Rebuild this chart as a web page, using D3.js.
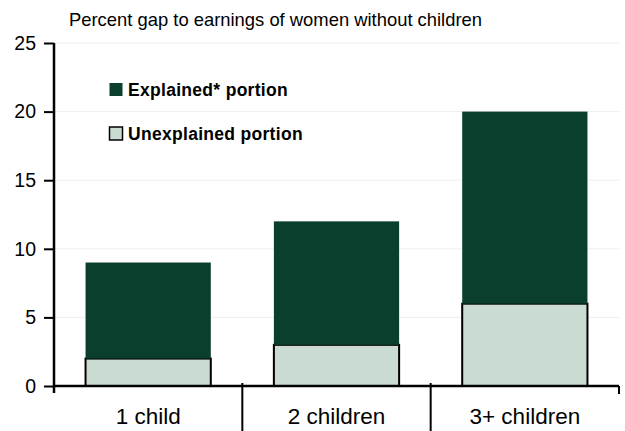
<!DOCTYPE html>
<html>
<head>
<meta charset="utf-8">
<script src="https://cdnjs.cloudflare.com/ajax/libs/d3/7.8.5/d3.min.js"></script>
<style>
  body { margin: 0; background: #fff; }
  svg text { font-family: "Liberation Sans", Arial, sans-serif; }
</style>
</head>
<body>
<svg id="chart"></svg>
<script>
// data
var categories = ["1 child", "2 children", "3+ children"];
var unexplained = [2, 3, 6];
var explained = [7, 9, 14];
var yTicks = [0, 5, 10, 15, 20, 25];
var seriesNames = ["Explained* portion", "Unexplained portion"];

var width = 625, height = 431;
var margin = {top: 43, right: 6, bottom: 45, left: 54};

var svg = d3.select("#chart").attr("width", width).attr("height", height);

var x = d3.scaleBand()
    .domain(categories)
    .range([margin.left, width - margin.right])
    .paddingInner(0.335)
    .paddingOuter(0.1675);

var y = d3.scaleLinear()
    .domain([0, 25])
    .range([height - margin.bottom, margin.top]);

// light gridlines
svg.append("g")
    .selectAll("line")
    .data(yTicks.slice(1))
    .enter()
    .append("line")
    .attr("x1", margin.left)
    .attr("x2", width - margin.right)
    .attr("y1", d => y(d))
    .attr("y2", d => y(d))
    .attr("stroke", "#eeeeee")
    .attr("stroke-width", 1);

// stacked bars
var stackData = categories.map((c, i) => ({cat: c, unexplained: unexplained[i], explained: explained[i]}));
var series = d3.stack().keys(["unexplained", "explained"])(stackData);
var fills = {unexplained: "#cadcd2", explained: "#0a3f2d"};

series.forEach(function (s) {
    svg.append("g")
        .selectAll("rect")
        .data(s)
        .enter()
        .append("rect")
        .attr("x", d => x(d.data.cat))
        .attr("width", x.bandwidth())
        .attr("y", d => y(d[1]))
        .attr("height", d => y(d[0]) - y(d[1]))
        .attr("fill", fills[s.key])
        .attr("stroke", s.key == "unexplained" ? "#000" : "none")
        .attr("stroke-width", 2);
});

// y axis
var yAxis = svg.append("g")
    .attr("transform", "translate(" + margin.left + ",0)")
    .call(d3.axisLeft(y).tickValues(yTicks).tickSize(10).tickPadding(8));
yAxis.select(".domain").attr("stroke", "#000").attr("stroke-width", 2.5)
    .attr("d", "M0," + (y(0) + 7) + "V" + y(25));
yAxis.selectAll(".tick line").attr("stroke", "#000").attr("stroke-width", 2);
yAxis.selectAll(".tick text")
    .attr("font-size", 19.5)
    .attr("fill", "#000")
    .style("font-family", "'Liberation Sans', Arial, sans-serif");

// x axis line and category dividers
var x0 = margin.left, x1 = width - margin.right, yb = y(0);
svg.append("line")
    .attr("x1", x0).attr("x2", x1)
    .attr("y1", yb).attr("y2", yb)
    .attr("stroke", "#000").attr("stroke-width", 2.5);

var step = x.step();
var dividers = categories.slice(1).map(c => x(c) - (step - x.bandwidth()) / 2);
svg.append("g")
    .selectAll("line")
    .data(dividers)
    .enter()
    .append("line")
    .attr("x1", d => d).attr("x2", d => d)
    .attr("y1", yb - 3).attr("y2", height)
    .attr("stroke", "#000").attr("stroke-width", 2);

svg.append("line")
    .attr("x1", x1).attr("x2", x1)
    .attr("y1", yb).attr("y2", yb + 8)
    .attr("stroke", "#000").attr("stroke-width", 2);

svg.append("g")
    .selectAll("text")
    .data(categories)
    .enter()
    .append("text")
    .attr("x", d => x(d) + x.bandwidth() / 2)
    .attr("y", 424)
    .attr("text-anchor", "middle")
    .attr("font-size", 22.5)
    .attr("fill", "#000")
    .text(d => d);

// title
svg.append("text")
    .attr("x", 69)
    .attr("y", 25.5)
    .attr("font-size", 18.4)
    .attr("fill", "#000")
    .text("Percent gap to earnings of women without children");

// legend
var legend = svg.append("g")
    .selectAll("g")
    .data(seriesNames)
    .enter()
    .append("g")
    .attr("transform", (d, i) => "translate(109.5," + (89.5 + i * 44) + ")");

legend.append("rect")
    .attr("x", 0)
    .attr("y", -6.5)
    .attr("width", 13)
    .attr("height", 13)
    .attr("fill", (d, i) => i == 0 ? fills.explained : fills.unexplained)
    .attr("stroke", (d, i) => i == 0 ? "none" : "#000")
    .attr("stroke-width", 1.5);

legend.append("text")
    .attr("x", 18.5)
    .attr("y", 6)
    .attr("font-size", 17.5)
    .attr("letter-spacing", 0.3)
    .attr("font-weight", "bold")
    .attr("fill", "#000")
    .text(d => d);
</script>
</body>
</html>
